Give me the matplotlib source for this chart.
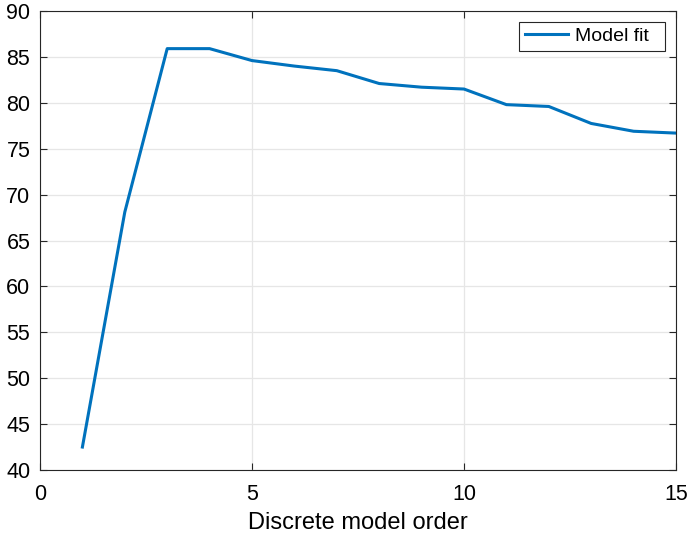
import numpy as np
import matplotlib.pyplot as plt

plt.rcParams['font.family'] = ['Liberation Sans', 'DejaVu Sans']

order = np.arange(1, 16)
fit = [42.5, 68.1, 85.9, 85.9, 84.6, 84.0, 83.5, 82.1, 81.7, 81.5,
       79.8, 79.6, 77.75, 76.9, 76.7]

fig = plt.figure(figsize=(6.89, 5.35), dpi=100)
ax = fig.add_axes([40/689, 65/535, 636/689, 459/535])

ax.plot(order, fit, color='#0072BD', lw=2.2, label='Model fit  ')

ax.set_xlim(0, 15)
ax.set_ylim(40, 90)
ax.set_xticks([0, 5, 10, 15])
ax.set_yticks(np.arange(40, 91, 5))
ax.grid(True, color='#e6e6e6', lw=0.9)
ax.set_axisbelow(True)
ax.tick_params(direction='in', top=True, right=True, labelsize=15.5,
               length=5, width=0.8, colors='#262626', labelcolor='black')
ax.tick_params(axis='x', pad=10)
ax.tick_params(axis='y', pad=7)
for s in ax.spines.values():
    s.set_color('#262626')
    s.set_linewidth(0.8)
ax.set_xlabel('Discrete model order', fontsize=17, labelpad=5)

leg = ax.legend(loc='upper right', fontsize=14, fancybox=False,
                framealpha=1, edgecolor='#262626', handlelength=2.2,
                borderaxespad=0.55, borderpad=0.3, handletextpad=0.35)
leg.get_frame().set_linewidth(0.8)

fig.savefig('out.png', dpi=100)
